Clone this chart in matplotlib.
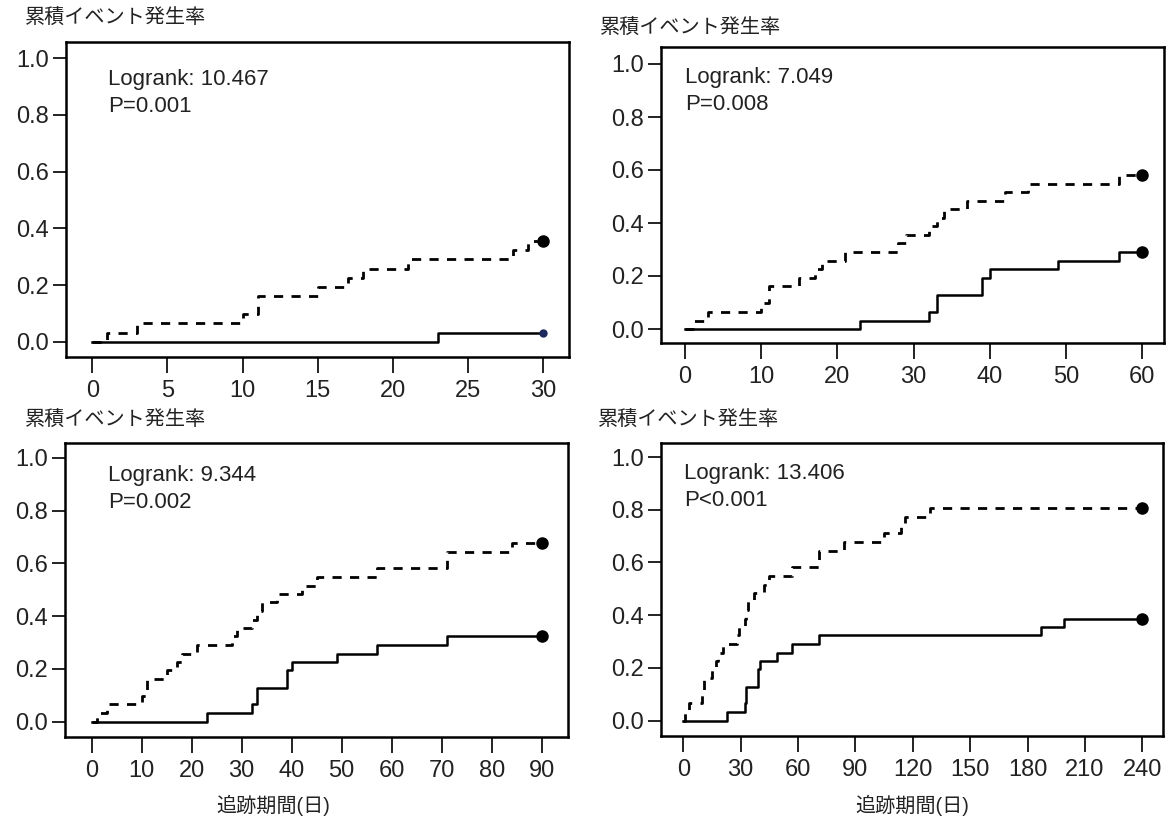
import numpy as np
import matplotlib
matplotlib.use("Agg")
import matplotlib.pyplot as plt

plt.rcParams['font.family'] = ['Liberation Sans', 'Noto Sans CJK JP', 'DejaVu Sans']

# cumulative incidence, dashed group
dash_t = [0, 1, 3, 10, 11, 15, 17, 18, 21, 28, 29, 32, 33, 34, 37, 42, 45, 57, 71, 84, 105, 114, 116, 129]
dash_y = [0, .032, .065, .097, .161, .194, .226, .258, .290, .323, .355, .387, .419, .452, .484,
          .516, .548, .581, .645, .677, .710, .742, .774, .806]
# cumulative incidence, solid group
solid_t = [0, 23, 32, 33, 39, 40, 49, 57, 71, 187, 199]
solid_y = [0, .032, .065, .129, .194, .226, .258, .290, .323, .355, .387]

cutoffs = [30, 60, 90, 240]
xtick_step = [5, 10, 10, 30]
logrank = ["Logrank: 10.467", "Logrank: 7.049", "Logrank: 9.344", "Logrank: 13.406"]
pvals = ["P=0.001", "P=0.008", "P=0.002", "P<0.001"]
yticks = [0.0, 0.2, 0.4, 0.6, 0.8, 1.0]

W, H = 1176, 823
# box (left, right, top, bottom) in pixels, and where 0 / full-scale sit
boxes = [(66, 569, 42, 357), (661, 1164, 47, 343), (65, 568, 443, 737), (661, 1163, 443, 736)]
x0px = [(92.3, 543.3), (685, 1142.3), (91.7, 541.7), (683.3, 1142.3)]
y0px = [(341.7, 58.2), (329, 64), (721.5, 458), (720.5, 457)]
title_pos = [(25, 18), (600, 28), (25, 420), (598, 420)]
text_pos = [(108, 80), (685, 78), (108, 475), (684, 474)]


def upto(t, y, end):
    t = np.asarray(t, float)
    y = np.asarray(y, float)
    m = t <= end
    return np.append(t[m], end), np.append(y[m], y[m][-1])


fig = plt.figure(figsize=(W / 100, H / 100), dpi=100)

for i in range(4):
    l, r, t, b = boxes[i]
    ax = fig.add_axes([l / W, 1 - b / H, (r - l) / W, (b - t) / H])
    xa, xb = x0px[i]
    ya, yb = y0px[i]
    end = cutoffs[i]
    sx = (xb - xa) / end
    sy = (ya - yb)
    ax.set_xlim((l - xa) / sx, (r - xa) / sx)
    ax.set_ylim((ya - b) / sy, (ya - t) / sy)

    dt, dy = upto(dash_t, dash_y, end)
    st, sy_ = upto(solid_t, solid_y, end)
    ax.step(st, sy_, where='post', color='black', lw=1.8)
    ax.step(dt, dy, where='post', color='black', lw=2.0, linestyle=(0, (3.3, 3.0)))
    ax.plot(end, dy[-1], 'o', color='black', ms=8)
    if i == 0:
        ax.plot(end, sy_[-1], 'o', color='#1c2a5c', ms=5)
    else:
        ax.plot(end, sy_[-1], 'o', color='black', ms=8)

    ax.set_xticks(np.arange(0, end + 1, xtick_step[i]))
    ax.set_yticks(yticks)
    ax.set_yticklabels([f"{v:.1f}" for v in yticks])
    ax.tick_params(axis='x', length=11.5, width=1.4, pad=5, labelsize=17, colors='#222222')
    ax.tick_params(axis='y', length=9.5, width=1.4, pad=3, labelsize=17, colors='#222222')
    for s in ax.spines.values():
        s.set_linewidth(1.8)

    tx, ty = title_pos[i]
    fig.text(tx / W, 1 - ty / H, "累積イベント発生率", fontsize=14.5, color='#222222',
             va='center', ha='left')
    px, py = text_pos[i]
    fig.text(px / W, 1 - py / H, logrank[i], fontsize=16, color='#222222', va='center', ha='left')
    fig.text(px / W, 1 - (py + 27) / H, pvals[i], fontsize=16, color='#222222', va='center', ha='left')

fig.text(273 / W, 1 - 805 / H, "追跡期間(日)", fontsize=14.5, color='#222222', ha='center', va='center')
fig.text(912 / W, 1 - 805 / H, "追跡期間(日)", fontsize=14.5, color='#222222', ha='center', va='center')

fig.savefig("out.png", dpi=100)
